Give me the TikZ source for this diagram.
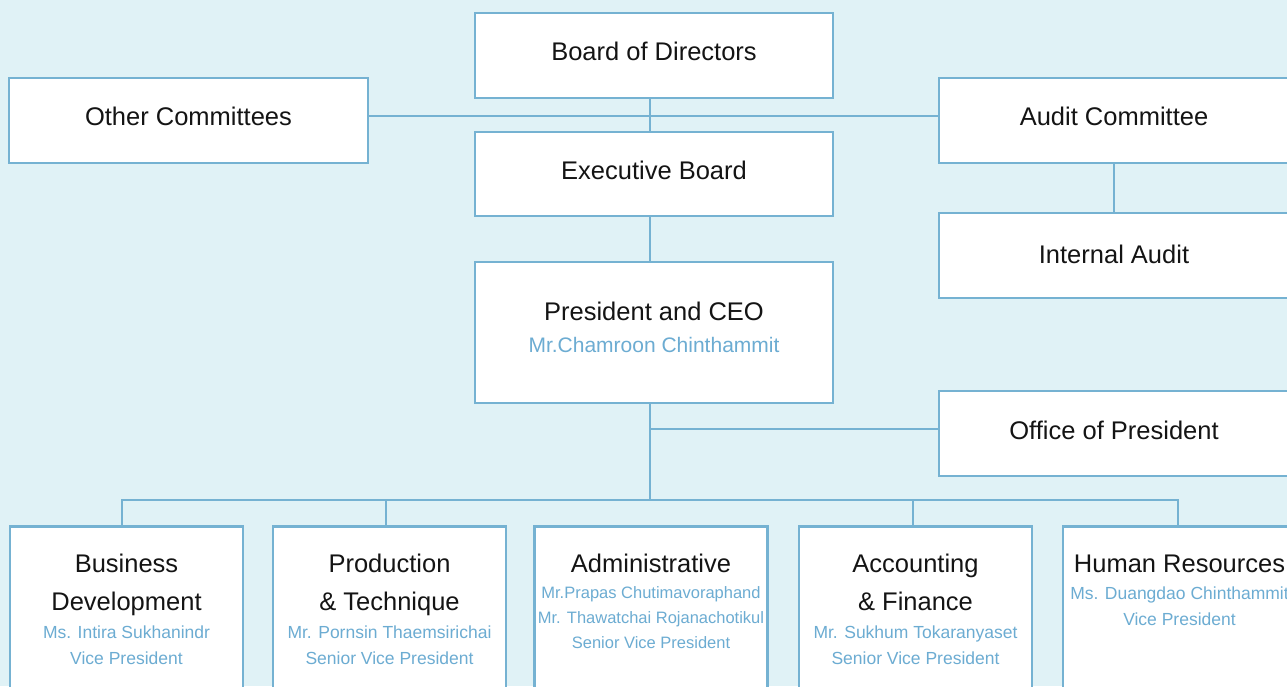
\documentclass[tikz,border=0pt]{standalone}
\usepackage{fontspec}
\setmainfont{Liberation Sans}
\usetikzlibrary{backgrounds}

\definecolor{bg}{RGB}{224,242,246}
\definecolor{edge}{RGB}{117,178,210}
\definecolor{namec}{RGB}{108,172,210}
\definecolor{ink}{RGB}{20,20,20}

% text blocks: a unit title and the names under it (centred, natural word spacing)
\newcommand\plainlines{\spaceskip=0pt\xspaceskip=0pt\centering}
\newcommand\titleblock[1]{{\fontsize{25.5}{38}\selectfont\plainlines #1\par}}
\newcommand\nameblock[3]{{\color{namec}\fontsize{#1}{#2}\selectfont\plainlines #3\par}}

\tikzset{
  unit/.style={draw=edge, line width=2.7pt, fill=white, inner sep=0pt},
  wide/.style={unit, minimum height=85pt, text height=18pt, text depth=8pt,
    font=\fontsize{25.5}{30}\selectfont, text=ink},
  dept/.style={unit, anchor=north, minimum width=233pt, minimum height=200pt},
  caption/.style={anchor=base, text width=320pt, align=center, text=ink, inner sep=0pt},
  link/.style={draw=edge, line width=2.7pt},
}

\begin{document}
\begin{tikzpicture}[x=1pt, y=-1pt]
  \clip (0,0) rectangle (1287,686);

  % governance boxes
  \node[wide, minimum width=358pt] (bod) at (654,55.5) {Board of Directors};
  \node[wide, minimum width=359pt] (oth) at (188.5,120.5) {Other Committees\hspace{22pt}};
  \node[wide, minimum width=350pt] (aud) at (1114,120.5) {Audit Committee};
  \node[wide, minimum width=358pt, minimum height=84pt] (exe) at (654,174) {Executive Board};
  \node[wide, minimum width=350pt, text depth=3pt] (ia) at (1114,255.5) {Internal Audit};
  \node[unit, minimum width=358pt, minimum height=141pt,
    label={[caption, label distance=-59.5pt]90:{\titleblock{President and CEO}\nameblock{21}{32.5}{Mr.Chamroon Chinthammit}}}]
    (ceo) at (654,332.5) {};
  \node[wide, minimum width=350pt, text depth=7pt] (op) at (1114,433.5) {Office of President};

  % departments
  \node[dept,
    label={[caption, label distance=-47pt]90:{\titleblock{Business\\Development}\vspace{2.3pt}\nameblock{17.5}{26}{Ms. Intira Sukhanindr\\Vice President}}}]
    (bd) at (126.5,525) {};
  \node[dept,
    label={[caption, label distance=-47pt]90:{\titleblock{Production\\\&{} Technique}\vspace{2.3pt}\nameblock{17.5}{26}{Mr. Pornsin Thaemsirichai\\Senior Vice President}}}]
    (pt) at (389.5,525) {};
  \node[dept,
    label={[caption, label distance=-47pt]90:{\titleblock{Administrative}\vspace{1.5pt}\nameblock{16.5}{25}{Mr.Prapas Chutimavoraphand\\Mr. Thawatchai Rojanachotikul\\Senior Vice President}}}]
    (ad) at (651,525) {};
  \node[dept,
    label={[caption, label distance=-47pt]90:{\titleblock{Accounting\\\&{} Finance}\vspace{2.3pt}\nameblock{17.5}{26}{Mr. Sukhum Tokaranyaset\\Senior Vice President}}}]
    (af) at (915.5,525) {};
  \node[dept,
    label={[caption, label distance=-47pt]90:{\titleblock{Human Resources}\vspace{1.3pt}\nameblock{17.5}{26}{Ms. Duangdao Chinthammit\\Vice President}}}]
    (hr) at (1179.5,525) {};

  \coordinate (bus) at (0,500);

  \begin{scope}[on background layer]
    \fill[bg] (0,0) rectangle (1287,686);
    % board level
    \draw[link] ([xshift=-4pt]bod.south) -- ([xshift=-4pt]exe.north);
    \draw[link] ([yshift=4.5pt]oth.east) -- ([yshift=4.5pt]aud.west);
    \draw[link] ([xshift=-4pt]exe.south) -- ([xshift=-4pt]ceo.north);
    \draw[link] (aud.south) -- (ia.north);
    % management level
    \draw[link] ([xshift=-4pt]ceo.south) -- ([xshift=-4pt]ceo.south |- bus);
    \draw[link] ([xshift=-4pt,yshift=4.5pt]ceo.south |- op.west) -- ([yshift=4.5pt]op.west);
    \draw[link] ([xshift=-4.5pt]bd.north) -- ([xshift=-4.5pt]bd.north |- bus)
      -- ([xshift=-1.5pt]hr.north |- bus) -- ([xshift=-1.5pt]hr.north);
    \draw[link] ([xshift=-3.5pt]pt.north) -- ([xshift=-3.5pt]pt.north |- bus);
    \draw[link] ([xshift=-2.5pt]af.north) -- ([xshift=-2.5pt]af.north |- bus);
  \end{scope}
\end{tikzpicture}
\end{document}
